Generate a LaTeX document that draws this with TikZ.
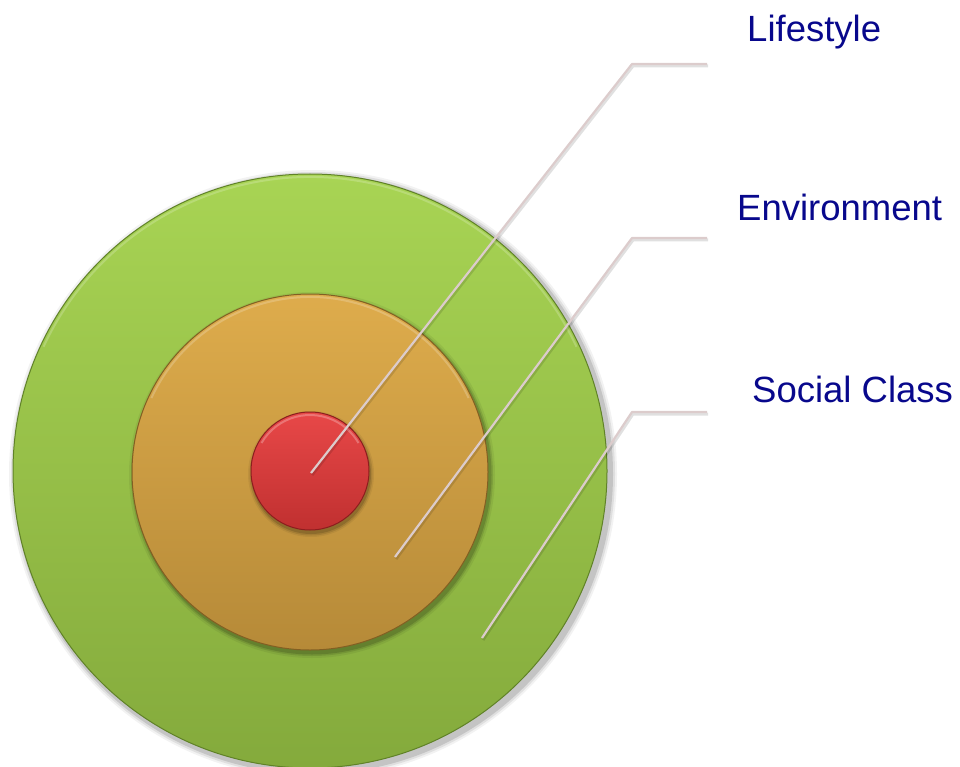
\documentclass[tikz,border=0pt]{standalone}
\usepackage{fontspec}
\setmainfont{Liberation Sans}
\definecolor{lbl}{RGB}{8,8,140}
\definecolor{gtop}{RGB}{168,212,84}
\definecolor{gbot}{RGB}{132,170,60}
\definecolor{gedge}{RGB}{96,130,40}
\definecolor{otop}{RGB}{222,172,76}
\definecolor{obot}{RGB}{182,138,56}
\definecolor{oedge}{RGB}{130,95,35}
\definecolor{rtop}{RGB}{232,72,72}
\definecolor{rbot}{RGB}{192,48,48}
\definecolor{redge}{RGB}{140,30,30}
\definecolor{conn}{RGB}{220,204,204}
\tikzset{
  x=1pt,y=-1pt,
  ring/.style={circle,inner sep=0pt,line width=1pt},
  shad/.style={circle,inner sep=0pt,fill=black},
  label/.style={inner sep=0pt,anchor=base west,text=lbl,font=\fontsize{36.5}{40}\selectfont},
  connshadow/.style={line width=3pt,draw=black,opacity=0.12,line join=round},
  connector/.style={line width=2.2pt,draw=conn,line join=round}
}
\begin{document}
\begin{tikzpicture}
\useasboundingbox (0,0) rectangle (960,767);
% shadows
\foreach \d/\o in {7/0.05,5/0.08,3/0.12}{
  \node[shad,opacity=\o,minimum size=594pt+2*\d pt] at (313,474) {};
}
\node[ring,minimum size=594pt,top color=gtop,bottom color=gbot,draw=gedge] (green) at (310,471) {};
\foreach \d/\o in {5/0.06,3/0.1,1.5/0.14}{
  \node[shad,opacity=\o,minimum size=356pt+2*\d pt] at (312,475) {};
}
\node[ring,minimum size=356pt,top color=otop,bottom color=obot,draw=oedge] (orange) at (310,472) {};
\foreach \d/\o in {4/0.06,2.5/0.1,1/0.14}{
  \node[shad,opacity=\o,minimum size=118pt+2*\d pt] at (311,474) {};
}
\node[ring,minimum size=118pt,top color=rtop,bottom color=rbot,draw=redge] (red) at (310,471) {};
% subtle top highlights
\draw[white,opacity=0.25,line width=2pt] (310,471) ++(-150:56) arc (-150:-30:56);
\draw[white,opacity=0.2,line width=2pt] (310,472) ++(-155:175) arc (-155:-25:175);
\draw[white,opacity=0.2,line width=2pt] (310,471) ++(-155:294) arc (-155:-25:294);
% connector points
\coordinate (lsA) at (311,473);
\coordinate (lsB) at (632,64);
\coordinate (lsC) at (707,64);
\coordinate (enA) at (395,557);
\coordinate (enB) at (632,238);
\coordinate (enC) at (707,238);
\coordinate (scA) at (482,638);
\coordinate (scB) at (632,412);
\coordinate (scC) at (707,412);
\foreach \p in {ls,en,sc}{
  \draw[connshadow] ([shift={(1,2)}]\p A) -- ([shift={(1,2)}]\p B) -- ([shift={(1,2)}]\p C);
  \draw[connector] (\p A) -- (\p B) -- (\p C);
}
% labels
\node[label] (lifestyle) at (747,42) {Lifestyle};
\node[label] (environment) at (737,221) {Environment};
\node[label] (social) at (752,402) {Social Class};
\end{tikzpicture}
\end{document}
